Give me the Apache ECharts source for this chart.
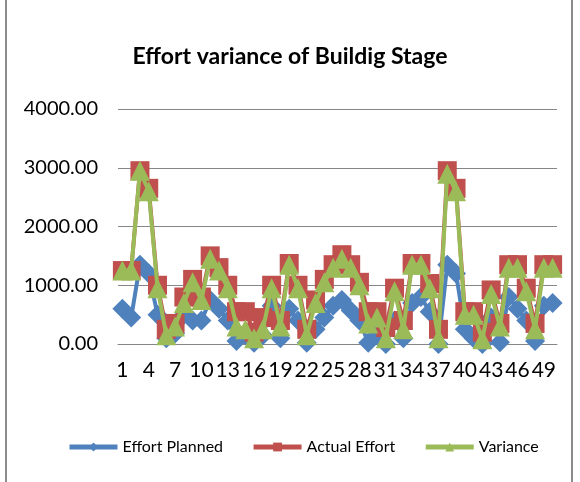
<!DOCTYPE html>
<html>
<head>
<meta charset="utf-8">
<script src="https://cdn.jsdelivr.net/npm/echarts@6/dist/echarts.min.js"></script>
<style>
  html, body { margin: 0; padding: 0; background: #fff; }
  #chart { width: 580px; height: 482px; }
</style>
</head>
<body>
<div id="chart"></div>
<script>
// categories 1..50
const categories = ['1','2','3','4','5','6','7','8','9','10','11','12','13','14','15','16','17','18','19','20',
  '21','22','23','24','25','26','27','28','29','30','31','32','33','34','35','36','37','38','39','40',
  '41','42','43','44','45','46','47','48','49','50']

// values
const effortPlanned = [600, 450, 1350, 1200, 500, 100, 180, 500, 400, 400,
  750, 600, 400, 50, 150, 20, 150, 650, 100, 600,
  400, 20, 250, 450, 650, 750, 570, 400, 20, 150,
  0, 400, 100, 700, 800, 550, 0, 1350, 1200, 250,
  100, 0, 450, 30, 800, 600, 400, 50, 650, 700]

const actualEffort = [1250, 1250, 2950, 2650, 1000, 250, 350, 800, 1100, 800,
  1500, 1300, 1000, 550, 550, 200, 450, 1000, 400, 1370,
  1000, 250, 750, 1100, 1350, 1520, 1350, 1050, 550, 550,
  280, 950, 400, 1370, 1370, 1030, 250, 2950, 2650, 550,
  550, 200, 920, 350, 1350, 1350, 950, 350, 1350, 1350]

const variance = [1250, 1250, 2950, 2600, 950, 150, 300, 700, 1050, 750,
  1450, 1250, 950, 300, 250, 100, 250, 950, 300, 1350,
  950, 150, 700, 1050, 1300, 1450, 1300, 1000, 350, 450,
  100, 900, 250, 1350, 1350, 950, 100, 2900, 2600, 500,
  500, 80, 850, 300, 1300, 1300, 900, 250, 1300, 1300]

const yTicks = [0, 1000, 2000, 3000, 4000]

const chart = echarts.init(document.getElementById('chart'))

const font = 'Lato, "Noto Sans", sans-serif'

chart.setOption({
  animation: false,
  backgroundColor: '#fff',
  title: {
    text: 'Effort variance of Buildig Stage',
    left: 'center',
    top: 40,
    textStyle: { fontFamily: font, fontSize: 23, fontWeight: 'bold', color: '#000' },
  },
  graphic: [{
    type: 'rect',
    shape: { x: 6, y: -4, width: 566, height: 492 },
    style: { fill: 'none', stroke: '#8c8c8c', lineWidth: 2 },
    silent: true,
  }],
  grid: { left: 118, right: 23, top: 109, bottom: 138 },
  legend: {
    left: 62,
    top: 434,
    itemWidth: 48,
    itemHeight: 11,
    itemGap: 28,
    lineStyle: { width: 5 },
    textStyle: { fontFamily: font, fontSize: 16, color: '#000' },
    data: ['Effort Planned', 'Actual Effort', 'Variance'],
  },
  xAxis: {
    type: 'category',
    data: categories,
    boundaryGap: true,
    axisLine: { lineStyle: { color: '#868686', width: 1 } },
    axisTick: { show: false },
    axisLabel: {
      interval: 2,
      fontFamily: font,
      fontSize: 21,
      color: '#000',
      margin: 16,
    },
  },
  yAxis: {
    type: 'value',
    min: yTicks[0],
    max: yTicks[yTicks.length - 1],
    interval: 1000,
    axisLine: { show: false },
    axisTick: { show: false },
    splitLine: { lineStyle: { color: '#868686', width: 1 } },
    axisLabel: {
      fontFamily: font,
      fontSize: 20,
      color: '#000',
      margin: 20,
      formatter: v => v.toFixed(2),
    },
  },
  series: [
    {
      name: 'Effort Planned',
      type: 'line',
      data: effortPlanned,
      symbol: 'diamond',
      symbolSize: 20,
      showAllSymbol: true,
      lineStyle: { color: '#4F81BD', width: 4 },
      itemStyle: { color: '#4F81BD' },
      z: 2,
    },
    {
      name: 'Actual Effort',
      type: 'line',
      data: actualEffort,
      symbol: 'rect',
      symbolSize: 19,
      showAllSymbol: true,
      lineStyle: { color: '#C0504D', width: 4 },
      itemStyle: { color: '#C0504D' },
      z: 3,
    },
    {
      name: 'Variance',
      type: 'line',
      data: variance,
      symbol: 'triangle',
      symbolSize: 20,
      showAllSymbol: true,
      lineStyle: { color: '#9BBB59', width: 4 },
      itemStyle: { color: '#9BBB59' },
      z: 4,
    },
  ],
})
</script>
</body>
</html>
